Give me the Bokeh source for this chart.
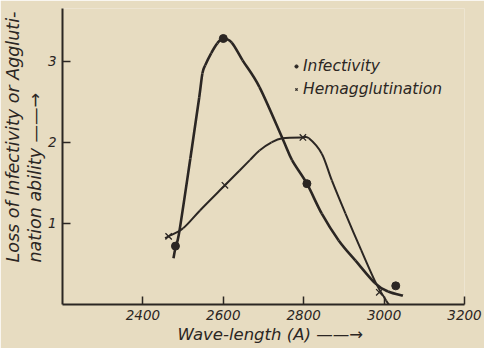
import numpy as np
from bokeh.plotting import figure
from bokeh.models import Legend, LegendItem, FixedTicker, Range1d, Title
from bokeh.embed import file_html
from bokeh.resources import INLINE

# Infectivity curve (hand-drawn trace) and measured points
inf_curve_x = [2476, 2481, 2491, 2518, 2540, 2548, 2555, 2570, 2585, 2599, 2621, 2648, 2690, 2747, 2771, 2808, 2845, 2887, 2929, 2978, 3010, 3047]
inf_curve_y = [0.57, 0.70, 0.91, 1.80, 2.55, 2.85, 2.95, 3.10, 3.22, 3.28, 3.23, 3.01, 2.68, 2.05, 1.78, 1.49, 1.12, 0.79, 0.54, 0.26, 0.16, 0.11]
inf_pts_x = [2481, 2600, 2808, 3029]
inf_pts_y = [0.72, 3.28, 1.49, 0.23]

# Hemagglutination curve and measured points
hem_curve_x = [2455, 2464, 2500, 2542, 2604, 2640, 2666, 2690, 2720, 2747, 2796, 2813, 2845, 2870, 2904, 2943, 2980, 3005, 3012]
hem_curve_y = [0.82, 0.84, 0.94, 1.16, 1.47, 1.65, 1.78, 1.90, 2.00, 2.05, 2.06, 2.05, 1.86, 1.53, 1.12, 0.67, 0.26, 0.05, 0.00]
hem_pts_x = [2464, 2604, 2798, 2988]
hem_pts_y = [0.84, 1.47, 2.06, 0.15]

x_ticks = [2400, 2600, 2800, 3000, 3200]
y_ticks = [1, 2, 3]

x_title = "Wave-length (A)    \u2014\u2014\u2192"
y_title_1 = "Loss of Infectivity or Aggluti-"
y_title_2 = "nation ability   \u2014\u2014\u2192"

BG = "#E7DCC1"
INK = "#2B2623"
FONT = "DejaVu Sans"


def smooth(xs, ys):
    """Catmull-Rom path through the traced points, as cubic Bezier segments."""
    xs = np.asarray(xs, float); ys = np.asarray(ys, float)
    px = np.concatenate([[xs[0]], xs, [xs[-1]]])
    py = np.concatenate([[ys[0]], ys, [ys[-1]]])
    seg = dict(x0=[], y0=[], x1=[], y1=[], cx0=[], cy0=[], cx1=[], cy1=[])
    for i in range(1, len(px) - 2):
        seg["x0"].append(px[i]); seg["y0"].append(py[i])
        seg["x1"].append(px[i + 1]); seg["y1"].append(py[i + 1])
        seg["cx0"].append(px[i] + (px[i + 1] - px[i - 1]) / 6)
        seg["cy0"].append(py[i] + (py[i + 1] - py[i - 1]) / 6)
        seg["cx1"].append(px[i + 1] - (px[i + 2] - px[i]) / 6)
        seg["cy1"].append(py[i + 1] - (py[i + 2] - py[i]) / 6)
    return seg


p = figure(width=484, height=348, output_backend="svg", toolbar_location=None,
           x_range=Range1d(2200, 3200), y_range=Range1d(0, 3.65),
           min_border_left=61, min_border_right=20, min_border_top=8, min_border_bottom=44)
p.background_fill_color = BG
p.border_fill_color = BG
p.outline_line_color = None
p.grid.visible = False

for ax in (p.xaxis[0], p.yaxis[0]):
    ax.axis_line_color = INK
    ax.axis_line_width = 2
    ax.major_tick_line_color = INK
    ax.major_tick_line_width = 1.5
    ax.major_tick_in = 8
    ax.major_tick_out = 0
    ax.minor_tick_line_color = None
    ax.major_label_text_font = FONT
    ax.major_label_text_font_style = "italic"
    ax.major_label_text_color = INK
    ax.major_label_text_font_size = "13.5px"
p.xaxis.ticker = FixedTicker(ticks=x_ticks)
p.yaxis.ticker = FixedTicker(ticks=y_ticks)
p.xaxis.major_label_standoff = 5
p.yaxis.major_label_standoff = 6

p.bezier(line_color=INK, line_width=2.6, **smooth(inf_curve_x, inf_curve_y))
p.bezier(line_color=INK, line_width=2.0, **smooth(hem_curve_x, hem_curve_y))
r_dot = p.scatter(inf_pts_x, inf_pts_y, marker="circle", size=8, fill_color=INK, line_color=INK)
r_x = p.scatter(hem_pts_x, hem_pts_y, marker="x", size=9, line_color=INK, line_width=1.3)

legend = Legend(items=[LegendItem(label="Infectivity", renderers=[r_dot]),
                       LegendItem(label="Hemagglutination", renderers=[r_x])],
                location=(230, 206), background_fill_alpha=0, border_line_color=None,
                label_text_font=FONT, label_text_font_style="italic", label_text_font_size="15.5px",
                label_text_color=INK, glyph_width=8, glyph_height=8, label_standoff=3,
                spacing=5, padding=2, margin=0)
p.add_layout(legend)

tstyle = dict(text_font=FONT, text_font_style="italic", text_color=INK, align="left")
p.add_layout(Title(text=x_title, offset=115, standoff=0, text_font_size="16.5px", **tstyle), "below")
p.add_layout(Title(text=y_title_2, offset=42, standoff=0, text_font_size="17.5px", **tstyle), "left")
p.add_layout(Title(text=y_title_1, offset=42, standoff=0, text_font_size="17.5px", **tstyle), "left")

open("out.html", "w").write(file_html(p, INLINE))
